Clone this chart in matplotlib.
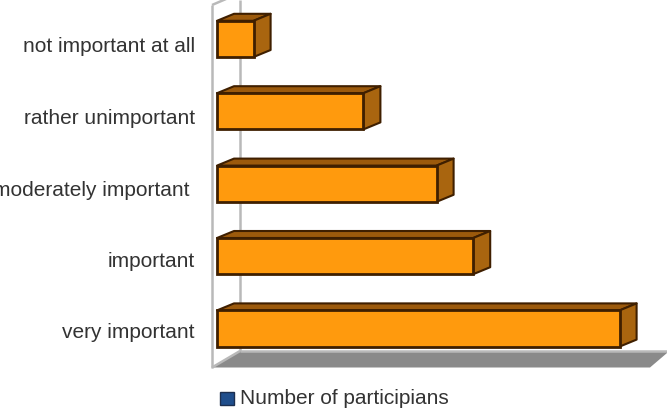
import matplotlib
matplotlib.use("Agg")
import matplotlib.pyplot as plt
from matplotlib.patches import Polygon, Rectangle

categories = ["very important", "important", "moderately important ",
              "rather unimportant", "not important at all"]
participants = [11, 7, 6, 4, 1]
legend_label = "Number of participians"

plt.rcParams['font.family'] = ['Liberation Sans', 'DejaVu Sans']

W, H = 667, 409
X_UNIT = 36.6
Y_UNIT = 72.4
bar_height = 0.5
depth_x = 17 / X_UNIT   # 3d offset in value units
depth_y = 7 / Y_UNIT    # 3d offset in category units

fig = plt.figure(figsize=(W / 100, H / 100), dpi=100)
ax = fig.add_axes([0, 0, 1, 1])
ax.set_xlim(-217 / X_UNIT, (W - 217) / X_UNIT)
ax.set_ylim((328.5 - H) / Y_UNIT, 328.5 / Y_UNIT)
ax.axis("off")


def px(x, y):
    # pixel position in the picture -> data position, only for the chart frame
    return ((x - 217) / X_UNIT, (328.5 - y) / Y_UNIT)


# floor and walls of the 3d frame
floor = [px(212, 367.5), px(240, 351), px(667, 351), px(667, 353), px(650, 367.5)]
ax.add_patch(Polygon(floor, closed=True, fc="#8a8a8a", ec="none", zorder=1))
wall_color = "#b9b9b9"
for a, b in [((212, 367.5), (212, 5)), ((212, 5), (226, -1)), ((240, 351), (240, 0)),
             ((212, 367.5), (240, 351)), ((240, 350.5), (667, 350.5))]:
    xa, ya = px(*a)
    xb, yb = px(*b)
    ax.plot([xa, xb], [ya, yb], color=wall_color, lw=1.8, zorder=2, solid_capstyle="butt")

# bars with their top and side faces
edge = "#3f1f00"
for i, (name, value) in enumerate(zip(categories, participants)):
    y0 = i - bar_height / 2
    y1 = i + bar_height / 2
    top = [(0, y1), (depth_x, y1 + depth_y), (value + depth_x, y1 + depth_y), (value, y1)]
    side = [(value, y0), (value + depth_x, y0 + depth_y), (value + depth_x, y1 + depth_y), (value, y1)]
    ax.add_patch(Polygon(top, closed=True, fc="#9c5a0c", ec=edge, lw=1.5, joinstyle="round", zorder=3))
    ax.add_patch(Polygon(side, closed=True, fc="#a9650f", ec=edge, lw=1.5, joinstyle="round", zorder=3))
    ax.barh(i, value, height=bar_height, color="#ff9a0d", edgecolor=edge, linewidth=2, zorder=4)
    # labels sit a little off the bar centres in the original
    lx, ly = px(195, 333 - i * 71.5)
    ax.text(lx, ly, name, ha="right", va="center", fontsize=15, color="#333333")

# legend
lx, ly = px(220, 405)
lw, lh = px(234, 392)
ax.add_patch(Rectangle((lx, ly), lw - lx, lh - ly, fc="#1f4e8c", ec="#1c2f4f", lw=1, zorder=3))
tx, ty = px(240, 398.5)
ax.text(tx, ty, legend_label, ha="left", va="center", fontsize=15, color="#333333")

fig.savefig("out.png", dpi=100)
